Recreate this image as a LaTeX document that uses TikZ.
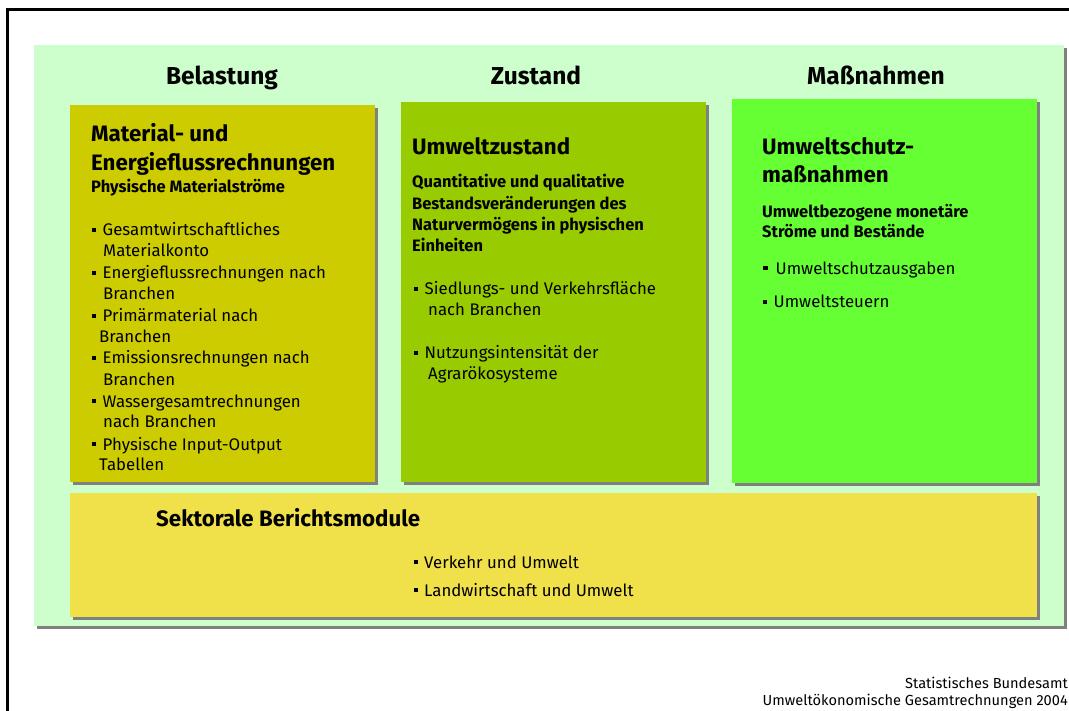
\documentclass[tikz,border=0pt]{standalone}
\usepackage{fontspec}
\setmainfont{Fira Sans}
\definecolor{bgg}{HTML}{CCFFCC}
\definecolor{colA}{HTML}{CCCC00}
\definecolor{colB}{HTML}{99CC00}
\definecolor{colC}{HTML}{66FF33}
\definecolor{colD}{HTML}{F0E14A}
\definecolor{shd}{HTML}{808080}
\newcommand{\bsq}{\rule[4pt]{4pt}{4pt}\hspace{6.5pt}}
\tikzset{
  hdr/.style={anchor=base, inner sep=0pt, font=\fontsize{24.5}{28}\selectfont\bfseries},
  ttl/.style={anchor=base west, inner sep=0pt, font=\fontsize{22.3}{26}\selectfont\bfseries},
  subt/.style={anchor=base west, inner sep=0pt, font=\fontsize{16.5}{19}\selectfont\bfseries},
  itm/.style={anchor=base west, inner sep=0pt, font=\fontsize{16.8}{19}\selectfont},
  foot/.style={anchor=base east, inner sep=0pt, font=\fontsize{14.6}{17}\selectfont},
  boxshadow/.style={fill=shd},
}
\begin{document}
\begin{tikzpicture}[x=1pt,y=-1pt]
\useasboundingbox (0,0) rectangle (1069,711);
\fill[white] (0,0) rectangle (1069,711);
% outer frame
\draw[line width=3pt] (7.5,9.5) rectangle (1100,740);
% light green background
\fill[boxshadow] (37,48) rectangle (1067,628.7);
\fill[bgg] (34,45) rectangle (1064,625.7);
% boxes
\fill[boxshadow] (73,108) rectangle (378,484.7);
\fill[colA] (70,105) rectangle (375,481.7);
\fill[boxshadow] (404,105) rectangle (709,484.7);
\fill[colB] (401,102) rectangle (706,481.7);
\fill[boxshadow] (735.3,102.3) rectangle (1039.7,485.7);
\fill[colC] (732.3,99.3) rectangle (1036.7,482.7);
\fill[boxshadow] (73,495.7) rectangle (1040.3,620.3);
\fill[colD] (70,492.7) rectangle (1037.3,617.3);
% headers
\node[hdr] (h1) at (222,85) {Belastung};
\node[hdr] (h2) at (536,85) {Zustand};
\node[hdr] (h3) at (876,85) {Maßnahmen};
% box 1
\node[ttl] (a1) at (91,141.7) {Material- und};
\node[ttl] (a2) at (91,171) {Energieflussrechnungen};
\node[subt] (a3) at (91,193) {Physische Materialströme};
\node[itm] (a4) at (92,236) {\bsq Gesamtwirtschaftliches};
\node[itm] (a5) at (103,257) {Materialkonto};
\node[itm] (a6) at (92,279) {\bsq Energieflussrechnungen nach};
\node[itm] (a7) at (103,300) {Branchen};
\node[itm] (a8) at (92,322) {\bsq Primärmaterial nach};
\node[itm] (a9) at (99,343) {Branchen};
\node[itm] (a10) at (92,364) {\bsq Emissionsrechnungen nach};
\node[itm] (a11) at (103,386) {Branchen};
\node[itm] (a12) at (92,407) {\bsq Wassergesamtrechnungen};
\node[itm] (a13) at (103,428) {nach Branchen};
\node[itm] (a14) at (92,450) {\bsq Physische Input-Output};
\node[itm] (a15) at (99,471) {Tabellen};
% box 2
\node[ttl] (b1) at (412,154.3) {Umweltzustand};
\node[subt] (b2) at (412,187.3) {Quantitative und qualitative};
\node[subt] (b3) at (412,210) {Bestandsveränderungen des};
\node[subt] (b4) at (412,231) {Naturvermögens in physischen};
\node[subt] (b5) at (412,251.7) {Einheiten};
\node[itm] (b6) at (414,295) {\bsq Siedlungs- und Verkehrsfläche};
\node[itm] (b7) at (428,315.7) {nach Branchen};
\node[itm] (b8) at (414,359) {\bsq Nutzungsintensität der};
\node[itm] (b9) at (428,379.3) {Agrarökosysteme};
% box 3
\node[ttl] (c1) at (762,155) {Umweltschutz-};
\node[ttl] (c2) at (762,182.7) {maßnahmen};
\node[subt] (c3) at (762,217.7) {Umweltbezogene monetäre};
\node[subt] (c4) at (762,237.7) {Ströme und Bestände};
\node[itm] (c5) at (763,274.3) {\rule[4pt]{4.5pt}{4.5pt}\hspace{8pt}Umweltschutzausgaben};
\node[itm] (c6) at (763,307.7) {\bsq Umweltsteuern};
% bottom box
\node[anchor=base west, inner sep=0pt, font=\fontsize{22.3}{26}\selectfont\bfseries] (d1) at (156,526.7) {Sektorale Berichtsmodule};
\node[itm] (d2) at (413.5,568.3) {\bsq Verkehr und Umwelt};
\node[itm] (d3) at (413.5,596) {\bsq Landwirtschaft und Umwelt};
% footer
\node[foot] (f1) at (1068,688) {Statistisches Bundesamt};
\node[foot] (f2) at (1068,705) {Umweltökonomische Gesamtrechnungen 2004};
\end{tikzpicture}
\end{document}
